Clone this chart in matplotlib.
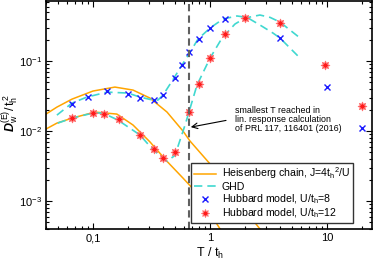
import matplotlib
matplotlib.use("Agg")
import matplotlib.pyplot as plt
from matplotlib.ticker import FixedLocator, FixedFormatter, LogLocator, NullFormatter

plt.rcParams['font.family'] = ['Liberation Sans', 'DejaVu Sans']
plt.rcParams['mathtext.fontset'] = 'custom'
plt.rcParams['mathtext.rm'] = 'Liberation Sans'
plt.rcParams['mathtext.it'] = 'Liberation Sans:italic'
plt.rcParams['mathtext.bf'] = 'Liberation Sans:bold'
plt.rcParams['mathtext.bfit'] = 'Liberation Sans:bold:italic'

# Heisenberg chain, J = 4 t_h^2 / U
heis_T_u8 = [0.0397, 0.0492, 0.0662, 0.100, 0.154, 0.220, 0.307, 0.429, 0.588, 0.675, 1.0, 1.635, 2.67]
heis_D_u8 = [0.0175, 0.0220, 0.0286, 0.0373, 0.0425, 0.0385, 0.0296, 0.0187, 0.0100, 0.0072, 0.0034, 0.00114, 0.0004]
heis_T_u12 = [0.0397, 0.0492, 0.0662, 0.104, 0.160, 0.220, 0.307, 0.429, 0.588, 0.774, 1.22]
heis_D_u12 = [0.0107, 0.0130, 0.0153, 0.0187, 0.0175, 0.0122, 0.0070, 0.0037, 0.00213, 0.0013, 0.0004]

# GHD
ghd_T_u8 = [0.0492, 0.0662, 0.0889, 0.132, 0.199, 0.252, 0.326, 0.359, 0.397, 0.492, 0.576,
            0.675, 0.790, 1.0, 1.29, 1.70, 2.07, 2.67, 3.45, 3.96, 4.55, 5.88]
ghd_D_u8 = [0.0169, 0.0251, 0.0306, 0.036, 0.0349, 0.0306, 0.0277, 0.0277, 0.0327, 0.0572, 0.0877,
            0.134, 0.206, 0.296, 0.398, 0.44, 0.42, 0.327, 0.251, 0.213, 0.169, 0.110]
ghd_T_u12 = [0.050, 0.0662, 0.100, 0.122, 0.163, 0.252, 0.326, 0.397, 0.429, 0.502, 0.554,
             0.612, 0.661, 0.774, 1.0, 1.266, 1.635, 1.99, 2.67, 3.26, 3.96, 5.88]
ghd_D_u12 = [0.0130, 0.0153, 0.0181, 0.0181, 0.0144, 0.0088, 0.0054, 0.0041, 0.0037, 0.0045, 0.0074,
             0.0122, 0.0187, 0.0454, 0.110, 0.213, 0.338, 0.411, 0.454, 0.42, 0.36, 0.213]

# Hubbard model
hub_T_u8 = [0.0667, 0.0909, 0.133, 0.20, 0.25, 0.333, 0.40, 0.50, 0.571, 0.667, 0.80, 1.0, 1.33, 4.0, 10.0, 20.0]
hub_D_u8 = [0.0243, 0.0306, 0.037, 0.034, 0.0296, 0.0276, 0.0325, 0.057, 0.088, 0.134, 0.206, 0.295, 0.40, 0.21, 0.042, 0.011]
hub_T_u12 = [0.0667, 0.10, 0.125, 0.167, 0.25, 0.333, 0.40, 0.50, 0.667, 0.80, 1.0, 1.33, 2.0, 4.0, 9.6, 20.0]
hub_D_u12 = [0.0153, 0.018, 0.0175, 0.0148, 0.0088, 0.0055, 0.0041, 0.0050, 0.0187, 0.047, 0.11, 0.244, 0.41, 0.35, 0.088, 0.023]

T_min_linresp = 0.665

xtick_vals = [0.1, 1, 10]
xtick_labels = ['0,1', '1', '10']
ytick_vals = [1e-3, 1e-2, 1e-1]
ytick_labels = [r'$10^{-3}$', r'$10^{-2}$', r'$10^{-1}$']

orange = '#ffa500'
cyan = '#40d8d0'

fig = plt.figure(figsize=(3.74, 2.59), dpi=100)
ax = fig.add_axes([46/374, 1 - 229/259, (372 - 46)/374, (229 - 1)/259])
ax.set_xscale('log')
ax.set_yscale('log')

l1, = ax.plot(heis_T_u8, heis_D_u8, color=orange, lw=1.1, label=r'Heisenberg chain, J=4t$_\mathrm{h}$$^2$/U')
ax.plot(heis_T_u12, heis_D_u12, color=orange, lw=1.1)
l2, = ax.plot(ghd_T_u8, ghd_D_u8, color=cyan, lw=1.2, dashes=(5, 3), label='GHD')
ax.plot(ghd_T_u12, ghd_D_u12, color=cyan, lw=1.2, dashes=(5, 3))
l3, = ax.plot(hub_T_u8, hub_D_u8, ls='none', marker='x', ms=4.5, mew=1.0, color='#1a1aff',
              label=r'Hubbard model, U/t$_\mathrm{h}$=8')
l4, = ax.plot(hub_T_u12, hub_D_u12, ls='none', marker=(8, 1, 0), ms=6.5, mew=0.6, color='#ff1a1a',
              markeredgecolor='#ff7070', label=r'Hubbard model, U/t$_\mathrm{h}$=12')

ax.axvline(T_min_linresp, color='#606060', lw=1.5, dashes=(3.5, 2))

ax.annotate('', xy=(T_min_linresp * 1.03, 0.0114), xytext=(1.37, 0.0142),
            arrowprops=dict(arrowstyle='->', color='black', lw=0.8, shrinkA=0, shrinkB=0))
ax.text(1.62, 0.0144, 'smallest T reached in\nlin. response calculation\nof PRL 117, 116401 (2016)',
        fontsize=6.4, ha='left', va='center', linespacing=1.0)

ax.set_xlim(0.0397, 24.2)
ax.set_ylim(4.0e-4, 0.72)

ax.xaxis.set_major_locator(FixedLocator(xtick_vals))
ax.xaxis.set_major_formatter(FixedFormatter(xtick_labels))
ax.xaxis.set_minor_locator(LogLocator(base=10, subs=range(2, 10)))
ax.xaxis.set_minor_formatter(NullFormatter())
ax.yaxis.set_major_locator(FixedLocator(ytick_vals))
ax.yaxis.set_major_formatter(FixedFormatter(ytick_labels))
ax.yaxis.set_minor_locator(LogLocator(base=10, subs=range(2, 10)))
ax.yaxis.set_minor_formatter(NullFormatter())

ax.tick_params(which='both', direction='in', top=True, right=True, width=0.8, labelsize=8)
ax.tick_params(which='major', length=4.5, pad=3)
ax.tick_params(which='minor', length=2.5)
for s in ax.spines.values():
    s.set_linewidth(1.2)

ax.set_xlabel(r'T / t$_\mathrm{h}$', fontsize=9)
ax.xaxis.set_label_coords(0.503, -0.072)
ax.set_ylabel(r'$\mathbfit{D}_\mathrm{w}^{\mathrm{(E)}}\mathrm{/\,t_h^{\,2}}$', fontsize=9)
ax.yaxis.set_label_coords(-0.077, 0.51)

leg = ax.legend(handles=[l1, l2, l3, l4], loc='upper left',
                bbox_to_anchor=(191/374, 1 - 163/259), bbox_transform=fig.transFigure,
                borderaxespad=0, fancybox=False, edgecolor='#333333', framealpha=1,
                fontsize=7.6, handlelength=2.1, handletextpad=0.55, labelspacing=0.05,
                borderpad=0.25, markerscale=0.9)
leg.get_frame().set_linewidth(1.0)

fig.savefig('out.png', dpi=100)
